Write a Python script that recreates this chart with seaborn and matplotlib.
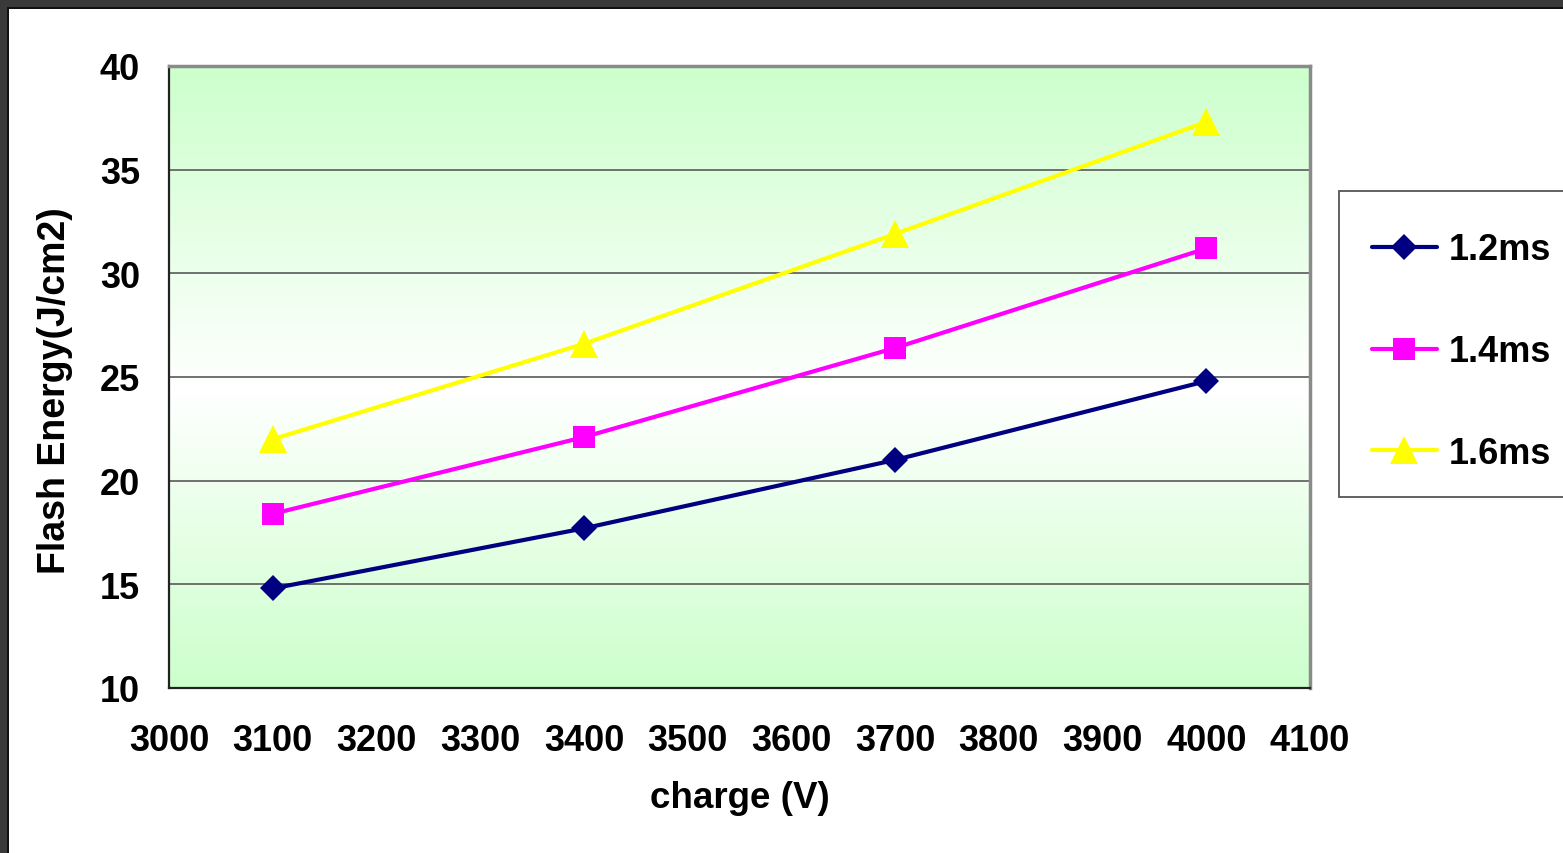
import numpy as np
import pandas as pd
import matplotlib
matplotlib.use("Agg")
import matplotlib.pyplot as plt
from matplotlib.patches import Rectangle
from matplotlib.colors import LinearSegmentedColormap
import seaborn as sns

# Charging voltage (V) and flash energy (J/cm2) for three pulse widths
charge_v = [3100, 3400, 3700, 4000]
energy_12ms = [14.8, 17.7, 21.0, 24.8]
energy_14ms = [18.4, 22.1, 26.4, 31.2]
energy_16ms = [22.0, 26.6, 31.9, 37.3]
series_labels = ["1.2ms", "1.4ms", "1.6ms"]
x_ticks = list(range(3000, 4101, 100))
y_ticks = list(range(10, 41, 5))

sns.set_style("white")
plt.rcParams["font.family"] = ["Liberation Sans", "DejaVu Sans"]
plt.rcParams["font.weight"] = "bold"
plt.rcParams["text.color"] = "black"
plt.rcParams["axes.labelcolor"] = "black"
plt.rcParams["xtick.color"] = "black"
plt.rcParams["ytick.color"] = "black"

fig = plt.figure(figsize=(15.63, 8.54), dpi=100)
fig.patch.set_facecolor("white")

# dark window frame along the top and left edges
W, H = 1563, 854
fig.patches.append(Rectangle((0, 1 - 8 / H), 1, 8 / H, transform=fig.transFigure,
                             facecolor="#3a3a3a", edgecolor="none", zorder=0))
fig.patches.append(Rectangle((0, 1 - 10 / H), 1, 2 / H, transform=fig.transFigure,
                             facecolor="#111111", edgecolor="none", zorder=0))
fig.patches.append(Rectangle((0, 0), 7 / W, 1, transform=fig.transFigure,
                             facecolor="#3a3a3a", edgecolor="none", zorder=0))
fig.patches.append(Rectangle((7 / W, 0), 1.5 / W, 1 - 8 / H, transform=fig.transFigure,
                             facecolor="#111111", edgecolor="none", zorder=0))

# legend box, running off the right edge
fig.patches.append(Rectangle((1339 / W, 1 - 498 / H), 300 / W, (498 - 192) / H,
                             transform=fig.transFigure, facecolor="white",
                             edgecolor="#555555", linewidth=1.3, zorder=1))

ax = fig.add_axes([169 / W, 1 - 689 / H, (1310 - 169) / W, (689 - 67) / H])

# green-white-green vertical gradient behind the plot
grad_cmap = LinearSegmentedColormap.from_list(
    "bg", [(0.0, "#ccffcc"), (0.52, "#ffffff"), (1.0, "#ccffcc")])
grad = np.linspace(0, 1, 256).reshape(-1, 1)
ax.imshow(grad, cmap=grad_cmap, aspect="auto", extent=[0, 1, 0, 1],
          transform=ax.transAxes, zorder=0, origin="upper")

styles = [
    (energy_12ms, "#000080", "D", 13.5),
    (energy_14ms, "#ff00ff", "s", 16.5),
    (energy_16ms, "#ffff00", "^", 19.5),
]
for (vals, color, marker, ms), label in zip(styles, series_labels):
    df = pd.DataFrame({"charge": charge_v, "energy": vals})
    sns.lineplot(data=df, x="charge", y="energy", ax=ax, color=color,
                 marker=marker, markersize=ms, markeredgewidth=0,
                 linewidth=3, label=label, zorder=3)

ax.set_xlim(3000, 4100)
ax.set_ylim(10, 40)
ax.set_xticks(x_ticks)
ax.set_yticks(y_ticks)
ax.yaxis.grid(True, color="#666666", linewidth=1.3, zorder=1)
ax.xaxis.grid(False)
ax.set_axisbelow(True)

for side in ["left", "bottom"]:
    ax.spines[side].set_color("#222222")
    ax.spines[side].set_linewidth(1.6)
for side in ["top", "right"]:
    ax.spines[side].set_color("#8a8a8a")
    ax.spines[side].set_linewidth(2.5)

ax.tick_params(axis="both", direction="in", length=8, width=1.3, color="#333333",
               labelsize=26, labelcolor="black", pad=21)
ax.tick_params(axis="x", pad=25.5)
for lab in ax.get_xticklabels() + ax.get_yticklabels():
    lab.set_fontweight("bold")

ax.set_xlabel("charge (V)", fontsize=26.5, fontweight="bold", color="black")
ax.set_ylabel("Flash Energy(J/cm2)", fontsize=27, fontweight="bold", color="black")
ax.xaxis.set_label_coords(0.5, -0.148)
ax.yaxis.set_label_coords(-0.084, 0.48)

handles, labels = ax.get_legend_handles_labels()
ax.get_legend().remove()
leg = fig.legend(handles, labels, loc="upper left",
                 bbox_to_anchor=(1339 / W, 1 - 201 / H),
                 fontsize=26, frameon=False,
                 borderpad=0.9, labelspacing=1.85, handlelength=1.8,
                 handletextpad=0.35, borderaxespad=0)
for t in leg.get_texts():
    t.set_fontweight("bold")
    t.set_color("black")

fig.savefig("out.png", dpi=100)
